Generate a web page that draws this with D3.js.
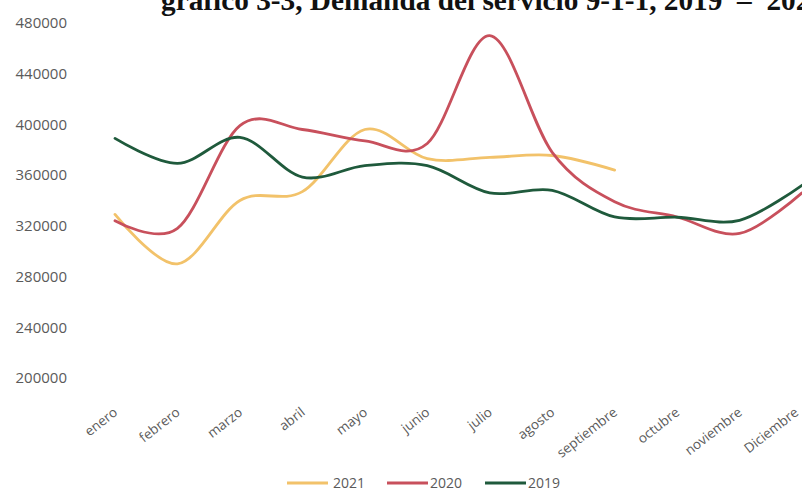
<!DOCTYPE html>
<html>
<head>
<meta charset="utf-8">
<script src="https://cdn.jsdelivr.net/npm/d3@7"></script>
<style>
  html, body { margin: 0; padding: 0; background: #fff; }
  svg { display: block; }
</style>
</head>
<body>
<svg id="chart" width="802" height="489"></svg>
<script>
const months = ["enero","febrero","marzo","abril","mayo","junio","julio","agosto","septiembre","octubre","noviembre","Diciembre"];
const yTicks = [200000, 240000, 280000, 320000, 360000, 400000, 440000, 480000];
const seriesNames = ["2021", "2020", "2019"];
const values2021 = [329000, 290000, 340000, 347000, 396000, 373000, 374000, 375500, 364000];
const values2020 = [324000, 318000, 399000, 396000, 387000, 385000, 470000, 378000, 339000, 327000, 314000, 346000];
const values2019 = [389000, 369300, 389800, 358500, 367500, 367500, 346000, 348000, 327000, 326800, 324400, 352000];
const colors = ["#f2c26a", "#c8505c", "#1f5a3c"];
const titleMain = "gráfico 3-3, Demanda del servicio 9-1-1, 2019";
const titleEnd = "–  2021";

const svg = d3.select("#chart");
const x = d3.scalePoint().domain(months).range([115, 802]);
const y = d3.scaleLinear().domain([200000, 480000]).range([378, 23]);

// Title (clipped at top, as in the source)
const title = svg.append("text")
  .attr("x", 161).attr("y", 9.5)
  .attr("font-family", "Liberation Serif, serif")
  .attr("font-weight", "bold")
  .attr("font-size", 29.3)
  .attr("fill", "#111")
  .attr("xml:space", "preserve")
  .style("white-space", "pre");
title.append("tspan").text(titleMain + "  ");
title.append("tspan").text(titleEnd);

// Y axis
const yAxis = svg.append("g")
  .attr("transform", "translate(67,0)")
  .call(d3.axisLeft(y).tickValues(yTicks).tickSize(0).tickPadding(0).tickFormat(d3.format("d")));
yAxis.select(".domain").remove();
yAxis.selectAll("text")
  .attr("font-family", "Open Sans, sans-serif")
  .attr("font-size", 15)
  .attr("fill", "#5a5a5a");

// X axis labels
const xAxis = svg.append("g")
  .attr("transform", "translate(0,414)")
  .call(d3.axisBottom(x).tickSize(0).tickPadding(0));
xAxis.select(".domain").remove();
xAxis.selectAll("text")
  .attr("font-family", "Open Sans, sans-serif")
  .attr("font-size", 13.5)
  .attr("fill", "#5a5a5a")
  .attr("text-anchor", "end")
  .attr("dy", 0)
  .attr("y", 0)
  .attr("transform", (d, i) => `translate(${i === months.length - 1 ? -3 : 3},0) rotate(-38)`);

// Lines
const line = d3.line()
  .x((d, i) => x(months[i]))
  .y(d => y(d))
  .curve(d3.curveCardinal.tension(0));

const allSeries = [values2021, values2020, values2019];
allSeries.forEach((vals, k) => {
  svg.append("path")
    .datum(vals)
    .attr("fill", "none")
    .attr("stroke", colors[k])
    .attr("stroke-width", 2.8)
    .attr("stroke-linecap", "round")
    .attr("d", line);
});

// Legend
const legendX = [287, 387, 485];
const legend = svg.append("g");
seriesNames.forEach((name, k) => {
  legend.append("line")
    .attr("x1", legendX[k]).attr("x2", legendX[k] + 41)
    .attr("y1", 483).attr("y2", 483)
    .attr("stroke", colors[k]).attr("stroke-width", 3);
  legend.append("text")
    .attr("x", legendX[k] + (k === 0 ? 46 : 43)).attr("y", 487.5)
    .attr("font-family", "Open Sans, sans-serif")
    .attr("font-size", 14)
    .attr("fill", "#5a5a5a")
    .text(name);
});
</script>
</body>
</html>
